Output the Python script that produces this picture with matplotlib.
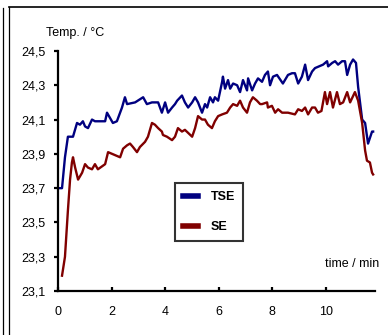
import matplotlib.pyplot as plt
from matplotlib.lines import Line2D
from matplotlib.ticker import FuncFormatter

plt.rcParams['font.family'] = ['Liberation Sans', 'DejaVu Sans']

# TSE (blue) - time in min, temperature in degC
tse_t = [0, 0.15, 0.26, 0.37, 0.45, 0.56, 0.71, 0.82, 0.93, 1.01, 1.12, 1.27, 1.38, 1.64,
         1.76, 1.83, 1.94, 2.05, 2.20, 2.39, 2.50, 2.58, 2.88, 3.18, 3.32, 3.51, 3.74, 3.88,
         4.00, 4.11, 4.26, 4.37, 4.45, 4.63, 4.74, 4.86, 5.01, 5.12, 5.23, 5.38, 5.49, 5.57,
         5.68, 5.79, 5.86, 5.98, 6.13, 6.16, 6.24, 6.35, 6.43, 6.54, 6.69, 6.80, 6.91, 7.06,
         7.10, 7.25, 7.36, 7.47, 7.62, 7.73, 7.84, 7.92, 8.03, 8.18, 8.40, 8.59, 8.74, 8.85,
         8.97, 9.11, 9.23, 9.34, 9.49, 9.60, 9.90, 10.05, 10.09, 10.24, 10.35, 10.46, 10.61,
         10.72, 10.80, 10.91, 11.02, 11.13, 11.21, 11.36, 11.47, 11.58, 11.73, 11.77]
tse_temp = [23.70, 23.70, 23.88, 24.00, 24.00, 24.00, 24.08, 24.07, 24.09, 24.06, 24.05, 24.10,
            24.09, 24.09, 24.09, 24.14, 24.11, 24.08, 24.09, 24.17, 24.23, 24.19, 24.20, 24.23,
            24.19, 24.20, 24.20, 24.14, 24.20, 24.14, 24.17, 24.19, 24.21, 24.24, 24.20, 24.17,
            24.20, 24.23, 24.20, 24.14, 24.19, 24.17, 24.23, 24.20, 24.23, 24.21, 24.32, 24.35,
            24.28, 24.33, 24.28, 24.31, 24.30, 24.26, 24.33, 24.27, 24.34, 24.27, 24.31, 24.34,
            24.32, 24.36, 24.38, 24.30, 24.35, 24.36, 24.31, 24.36, 24.37, 24.37, 24.31, 24.35,
            24.42, 24.33, 24.38, 24.40, 24.42, 24.44, 24.41, 24.43, 24.44, 24.42, 24.44, 24.44,
            24.36, 24.42, 24.45, 24.43, 24.29, 24.10, 24.08, 23.96, 24.03, 24.03]

# SE (red)
se_t = [0.15, 0.26, 0.37, 0.45, 0.52, 0.56, 0.64, 0.75, 0.90, 1.01, 1.12, 1.27, 1.38, 1.49,
        1.76, 1.87, 2.02, 2.32, 2.43, 2.58, 2.69, 2.80, 2.95, 3.06, 3.25, 3.36, 3.51, 3.62,
        3.74, 3.88, 3.92, 4.07, 4.26, 4.37, 4.48, 4.63, 4.74, 5.01, 5.12, 5.23, 5.38, 5.49,
        5.60, 5.75, 5.86, 5.98, 6.13, 6.31, 6.43, 6.54, 6.69, 6.80, 6.91, 7.06, 7.17, 7.28,
        7.43, 7.55, 7.62, 7.81, 7.84, 7.99, 8.11, 8.22, 8.37, 8.59, 8.85, 8.97, 9.11, 9.23,
        9.34, 9.49, 9.60, 9.71, 9.84, 9.97, 10.05, 10.16, 10.27, 10.42, 10.53, 10.65, 10.80,
        10.91, 11.09, 11.21, 11.36, 11.47, 11.54, 11.65, 11.73, 11.77]
se_temp = [23.19, 23.30, 23.57, 23.75, 23.85, 23.88, 23.82, 23.75, 23.79, 23.84, 23.82, 23.81,
           23.84, 23.81, 23.84, 23.91, 23.90, 23.88, 23.93, 23.95, 23.96, 23.94, 23.91, 23.94,
           23.97, 24.00, 24.08, 24.07, 24.05, 24.03, 24.01, 24.00, 23.98, 24.00, 24.05, 24.03,
           24.04, 24.00, 24.05, 24.12, 24.10, 24.10, 24.07, 24.05, 24.09, 24.12, 24.13, 24.14,
           24.17, 24.19, 24.18, 24.21, 24.17, 24.14, 24.20, 24.23, 24.21, 24.19, 24.19, 24.20,
           24.17, 24.18, 24.14, 24.16, 24.14, 24.14, 24.13, 24.16, 24.15, 24.17, 24.13, 24.17,
           24.17, 24.14, 24.15, 24.26, 24.19, 24.26, 24.17, 24.26, 24.19, 24.20, 24.26, 24.20,
           24.26, 24.21, 24.08, 23.92, 23.86, 23.85, 23.79, 23.78]

x_ticks = [0, 2, 4, 6, 8, 10]
y_ticks = [23.1, 23.3, 23.5, 23.7, 23.9, 24.1, 24.3, 24.5]

fig = plt.figure(figsize=(3.88, 3.35), dpi=100)
ax = fig.add_axes([0.1495, 0.131, 0.817, 0.717])

ax.plot(tse_t, tse_temp, color='#000080', lw=1.7, label='TSE')
ax.plot(se_t, se_temp, color='#800000', lw=1.7, label='SE')

ax.set_xlim(0, 11.84)
ax.set_ylim(23.1, 24.5)
ax.set_xticks(x_ticks)
ax.set_yticks(y_ticks)
ax.yaxis.set_major_formatter(FuncFormatter(lambda v, p: f'{v:.1f}'.replace('.', ',')))
for s in ['top', 'right']:
    ax.spines[s].set_visible(False)
for s in ['left', 'bottom']:
    ax.spines[s].set_linewidth(1.6)
ax.tick_params(axis='x', direction='in', length=3, width=1.6, pad=11, labelsize=9)
ax.tick_params(axis='y', direction='out', length=3, width=1.6, pad=6, labelsize=9)

fig.text(46 / 388, 1 - 33 / 335, 'Temp. / °C', fontsize=9, va='center', ha='left')
fig.text(379 / 388, 1 - 264 / 335, 'time / min', fontsize=9, va='center', ha='right')

leg = ax.legend(loc='upper left', bbox_to_anchor=(175 / 388, 1 - 183 / 335),
                bbox_transform=fig.transFigure, borderaxespad=0, fancybox=False,
                frameon=True, edgecolor='black', handlelength=1.2, handletextpad=1.0,
                labelspacing=1.45, borderpad=0.65, prop={'weight': 'bold', 'size': 9})
leg.get_frame().set_linewidth(1.5)
for line in leg.get_lines():
    line.set_linewidth(4)

# outer frame lines
fig.add_artist(Line2D([2.5 / 388, 2.5 / 388], [0, 1 - 8 / 335], transform=fig.transFigure,
                      color='black', lw=0.9))
fig.add_artist(Line2D([8.5 / 388, 8.5 / 388], [0, 1 - 6.5 / 335], transform=fig.transFigure,
                      color='black', lw=0.9))
fig.add_artist(Line2D([8.5 / 388, 1], [1 - 6.5 / 335, 1 - 6.5 / 335], transform=fig.transFigure,
                      color='black', lw=1.2))

fig.savefig('out.png', dpi=100)
